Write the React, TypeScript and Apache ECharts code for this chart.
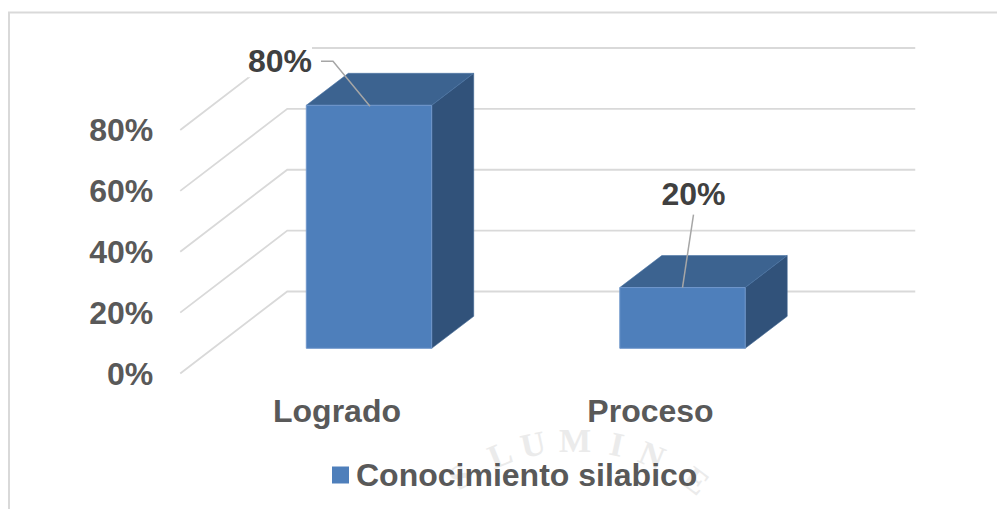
import React, { useEffect, useRef } from "react";
import * as echarts from "echarts";

const categories = ["Logrado", "Proceso"];
const seriesName = "Conocimiento silabico";
const values = [0.8, 0.2];
const yTicks = [0, 0.2, 0.4, 0.6, 0.8];
const watermarkLetters = ["S", "L", "U", "M", "I", "N", "E"];
const watermarkCenters = [460, 500, 533, 575, 617, 652, 696];

const FONT = '"Liberation Sans", Arial, sans-serif';
const pct = (v: number) => `${Math.round(v * 100)}%`;

// Layout of the pseudo-3D drawing
const WALL = { dx: 107, dy: -82, width: 735 };
const DEPTH = { dx: 42, dy: -32 };
const LABEL_LAYOUT = [
  { text: [-89, -44], line: [[1, 1], [-36, -44], [-48, -44]] },
  { text: [11, -94], line: [[0, 0], [11, -73]] },
];

export default function App() {
  const ref = useRef<HTMLDivElement>(null);

  useEffect(() => {
    const chart = echarts.init(ref.current!, undefined, { renderer: "svg" });

    const renderGrid = (params: any, api: any) => {
      const y = api.coord([0, api.value(1)])[1];
      const x = params.coordSys.x;
      return {
        type: "polyline",
        shape: {
          points: [
            [x, y],
            [x + WALL.dx, y + WALL.dy],
            [x + WALL.width, y + WALL.dy],
          ],
        },
        style: { stroke: "#d9d9d9", lineWidth: 1.8, fill: "none" },
      };
    };

    const renderBar = (params: any, api: any) => {
      const i = api.value(0);
      const v = api.value(1);
      const top = api.coord([i, v]);
      const base = api.coord([i, 0]);
      const w = api.size([1, 0])[0] * 0.4;
      const l = top[0] - w / 2;
      const r = top[0] + w / 2;
      const t = top[1];
      const b = base[1];
      const { dx, dy } = DEPTH;
      const layout = LABEL_LAYOUT[params.dataIndex];
      const leader = layout.line.map((p) => [top[0] + p[0], t + p[1]]);
      return {
        type: "group",
        children: [
          {
            type: "polygon",
            shape: { points: [[r, t], [r + dx, t + dy], [r + dx, b + dy], [r, b]] },
            style: { fill: "#31527a", stroke: "#3b618e", lineWidth: 0.6 },
          },
          {
            type: "polygon",
            shape: { points: [[l, t], [l + dx, t + dy], [r + dx, t + dy], [r, t]] },
            style: { fill: "#3c6390", stroke: "#4a74a5", lineWidth: 0.6 },
          },
          {
            type: "rect",
            shape: { x: l, y: t, width: w, height: b - t },
            style: { fill: "#4e7fbb", stroke: "#7097cb", lineWidth: 1 },
          },
          {
            type: "text",
            style: {
              text: pct(v),
              x: top[0] + layout.text[0],
              y: t + layout.text[1],
              align: "center",
              verticalAlign: "middle",
              fill: "#404040",
              font: `bold 32px ${FONT}`,
              backgroundColor: "#ffffff",
            },
          },
          {
            type: "polyline",
            shape: { points: leader },
            style: { stroke: "#a6a6a6", lineWidth: 1.5, fill: "none" },
          },
        ],
      };
    };

    const R = 200;
    const cx = 575;
    const cy = 640;
    const watermark = watermarkLetters.map((ch, k) => {
      const s = (watermarkCenters[k] - cx) / R;
      const th = Math.asin(s);
      return {
        type: "text",
        x: cx + R * s,
        y: cy - R * Math.cos(th),
        rotation: -th,
        z: 0,
        silent: true,
        style: {
          text: ch,
          align: "center",
          verticalAlign: "middle",
          fill: "#ebebeb",
          font: 'bold 34px "Liberation Serif", serif',
        },
      };
    });

    chart.setOption({
      animation: false,
      backgroundColor: "#ffffff",
      textStyle: { fontFamily: FONT },
      grid: [
        { left: 212.25, width: 627, top: 105.3, height: 243 },
        { left: 180.25, width: 627, top: 130, height: 243.5 },
      ],
      xAxis: [
        { gridIndex: 0, type: "category", data: categories, show: false },
        {
          gridIndex: 1,
          type: "category",
          data: categories,
          axisLine: { show: false },
          axisTick: { show: false },
          splitLine: { show: false },
          axisLabel: {
            color: "#595959",
            fontFamily: FONT,
            fontWeight: "bold",
            fontSize: 32,
            margin: 21,
          },
        },
      ],
      yAxis: [
        { gridIndex: 0, type: "value", min: 0, max: 0.8, show: false, splitLine: { show: false } },
        {
          gridIndex: 1,
          type: "value",
          min: 0,
          max: 0.8,
          interval: 0.2,
          axisLine: { show: false },
          axisTick: { show: false },
          splitLine: { show: false },
          axisLabel: {
            color: "#595959",
            fontFamily: FONT,
            fontWeight: "bold",
            fontSize: 32,
            margin: 27,
            formatter: (v: number) => pct(v),
          },
        },
      ],
      legend: {
        left: 332,
        top: 459,
        padding: 0,
        itemWidth: 17,
        itemHeight: 17,
        itemGap: 9,
        selectedMode: false,
        data: [{ name: seriesName, icon: "rect", itemStyle: { color: "#4e7fbb" } }],
        textStyle: {
          color: "#595959",
          fontFamily: FONT,
          fontWeight: "bold",
          fontSize: 32,
          padding: [0, 0, 0, 2],
        },
      },
      graphic: {
        elements: [
          ...watermark,
          {
            type: "polyline",
            z: 0,
            silent: true,
            shape: { points: [[9, 509], [9, 12.5], [997, 12.5]] },
            style: { stroke: "#d9d9d9", lineWidth: 2, fill: "none" },
          },
        ],
      },
      series: [
        {
          type: "custom",
          name: "grid",
          xAxisIndex: 1,
          yAxisIndex: 1,
          z: 1,
          silent: true,
          data: yTicks.map((t) => [0, t]),
          renderItem: renderGrid,
        },
        {
          type: "custom",
          name: seriesName,
          xAxisIndex: 0,
          yAxisIndex: 0,
          z: 2,
          silent: true,
          itemStyle: { color: "#4e7fbb" },
          encode: { x: 0, y: 1 },
          data: values.map((v, i) => [i, v]),
          renderItem: renderBar,
        },
      ],
    });

    return () => chart.dispose();
  }, []);

  return (
    <div
      ref={ref}
      style={{ position: "absolute", left: 0, top: 0, width: 997, height: 509 }}
    />
  );
}
